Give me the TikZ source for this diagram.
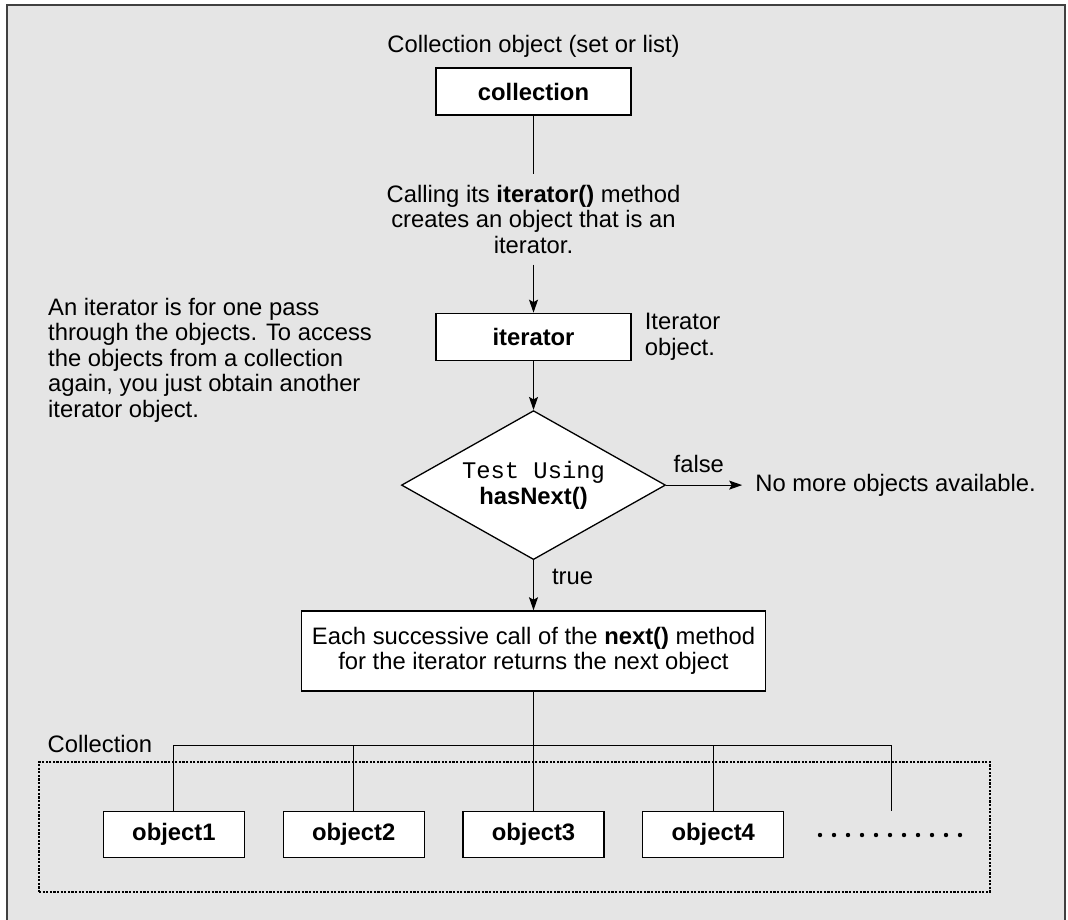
\documentclass[tikz,border=0pt]{standalone}
\usepackage{fontspec}
\setmainfont{Liberation Sans}
\setmonofont{Liberation Mono}
\usetikzlibrary{arrows.meta,positioning,shapes.geometric}

\begin{document}
\begin{tikzpicture}[
  x=1pt, y=-1pt,
  font=\fontsize{23.8}{25.5}\selectfont,
  box/.style={draw, rectangle, fill=white, align=center, inner sep=0pt, line width=1.3pt},
  small/.style={box, minimum width=195pt, minimum height=47pt, font=\fontsize{23.8}{25.5}\selectfont\bfseries},
  objbox/.style={box, minimum width=141pt, minimum height=46pt, font=\fontsize{23.8}{25.5}\selectfont\bfseries},
  decision/.style={draw, diamond, fill=white, aspect=1.77, inner sep=0pt, minimum width=264pt, minimum height=149pt, align=center, line width=1.3pt},
  note/.style={inner sep=0pt, align=center},
  leftnote/.style={inner sep=0pt, align=left},
  tag/.style={inner sep=0pt},
  line/.style={-{Stealth[length=13pt, width=9pt, inset=2.5pt]}, line width=1.1pt},
  link/.style={line width=1.1pt},
  outerframe/.style={draw=black!75, fill=gray!20, line width=2pt},
  collframe/.style={draw, dash pattern=on 2.2pt off 1.4pt, line width=1.1pt, inner sep=0pt}
]
\useasboundingbox (0,0) rectangle (1068,919);
\draw[outerframe] (7,5) rectangle (1065,935);

% main column
\node[small] (coll) at (533.5,91.5) {collection};
\node[note, anchor=base] (colltitle) at ([yshift=15pt]coll.north) {Collection object (set or list)};
\node[note, inner ysep=11pt, below=58pt of coll] (calling) {Calling its \textbf{iterator()} method\\creates an object that is an\\iterator.};
\node[small, below=197pt of coll] (iter) {iterator};
\node[leftnote, right=13pt of iter] (itercap) {Iterator\\object.};
\node[decision, below=49pt of iter] (test) {\texttt{Test Using}\\\textbf{hasNext()}};
\node[note, inner xsep=13pt, right=76pt of test] (nomore) {No more objects available.};
\node[box, minimum width=464pt, minimum height=80pt, below=50pt of test] (nextcall) {Each successive call of the \textbf{next()} method\\for the iterator returns the next object};

\node[leftnote, anchor=north west] (passnote) at (48,298) {An iterator is for one pass\\through the objects. To access\\the objects from a collection\\again, you just obtain another\\iterator object.};

% the collection
\node[collframe, minimum width=951pt, minimum height=130pt] (collbox) at (514.5,827) {};
\node[tag, anchor=base west] (colllabel) at ([xshift=9pt,yshift=9pt]collbox.north west) {Collection};

\coordinate[below=54pt of nextcall] (bus);
\node[objbox, below=65pt of bus] (obj3) {object3};
\node[objbox, left=37.5pt of obj3] (obj2) {object2};
\node[objbox, left=37.5pt of obj2] (obj1) {object1};
\node[objbox, right=37.5pt of obj3] (obj4) {object4};
\coordinate[right=178.5pt of obj4.north] (more);
\coordinate (dots) at (820,835);
\foreach \k in {0,...,10}
  \fill ([xshift=\k*14pt]dots) circle (2.2pt);

\draw[link] (coll) -- (calling);
\draw[line] (calling) -- (iter);
\draw[line] (iter) -- (test);
\draw[line] (test) -- node[tag, above=12pt, pos=0.43] {false} (nomore);
\draw[line] (test) -- node[tag, right=18pt, pos=0.34] {true} (nextcall);
\draw[link] (nextcall) -- (bus);
\draw[link] (obj3) -- (bus);
\foreach \o in {obj1,obj2,obj4}
  \draw[link] (\o.north) |- (bus);
\draw[link] (bus) -| (more);
\end{tikzpicture}
\end{document}
